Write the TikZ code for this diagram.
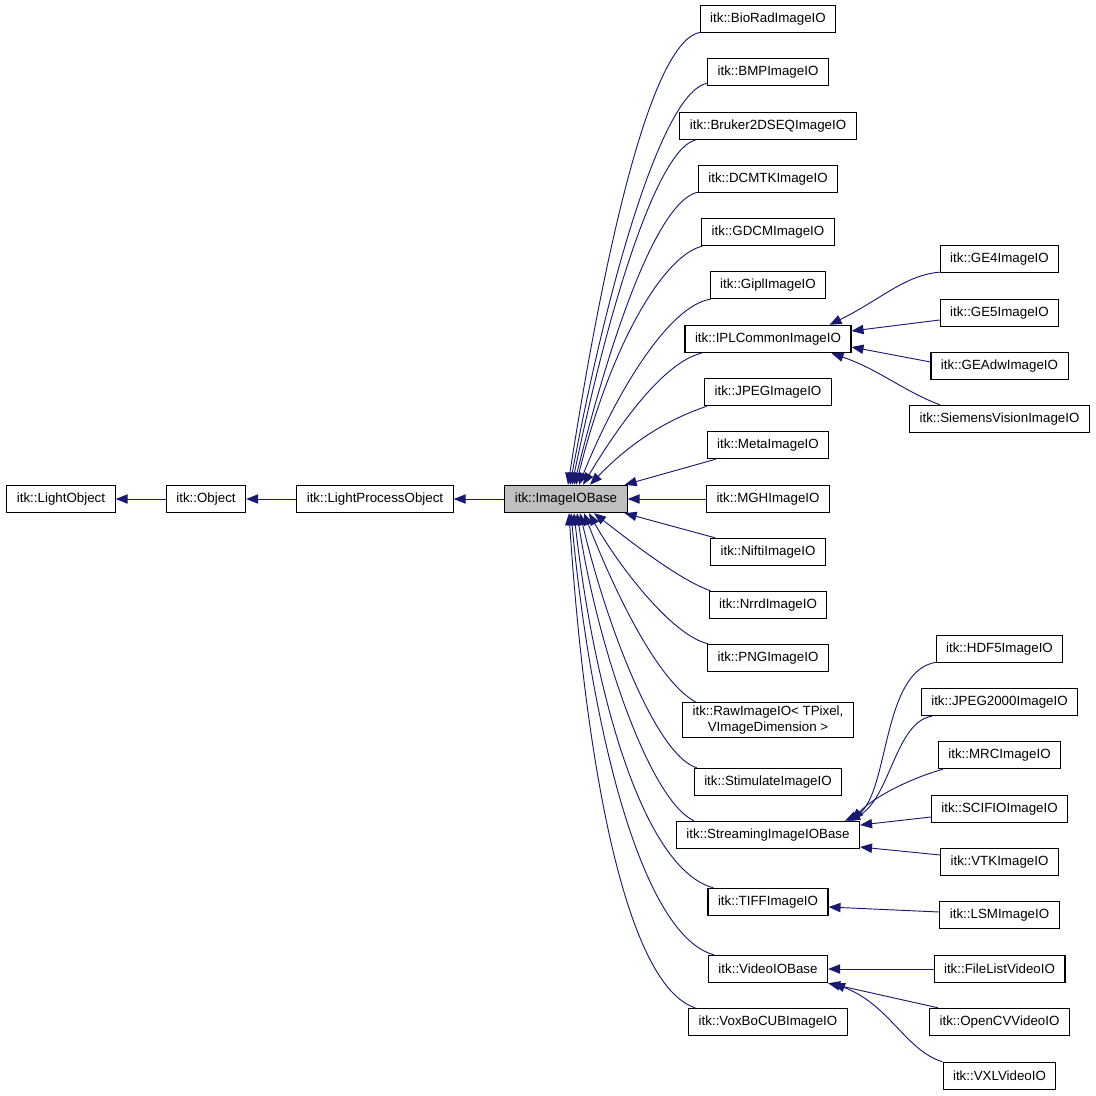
\documentclass[tikz,border=0pt]{standalone}
\usepackage{fontspec}
\setmainfont{Liberation Sans}
\usepackage{tikz}
\usetikzlibrary{arrows.meta,calc}
\definecolor{edgeblue}{HTML}{191970}
\definecolor{basegray}{HTML}{BFBFBF}
\tikzset{
  class-box/.style={draw=black, fill=white, line width=0.8pt, inner xsep=7.5pt, inner ysep=2pt,
    minimum height=20.5pt, align=center, font=\fontsize{10}{12.5}\selectfont},
  class-focus/.style={class-box, fill=basegray},
  inherit/.style={draw=edgeblue, line width=0.7pt, -{Triangle[length=9pt, width=7pt]}}
}

\begin{document}
\begin{tikzpicture}[x=0.75pt, y=-0.75pt]
  \useasboundingbox (0,0) rectangle (1096,1096);

  % Base chain
  \node[class-box] (lobj) at (61,499) {itk::LightObject};
  \node[class-box] (obj) at (206,499) {itk::Object};
  \node[class-box] (lpo) at (375,499) {itk::LightProcessObject};
  \node[class-focus] (iob) at (566,499) {itk::ImageIOBase};
  \draw[inherit] (obj) -- (lobj);
  \draw[inherit] (lpo) -- (obj);
  \draw[inherit] (iob) -- (lpo);

  % Direct subclasses
  \foreach \name/\y/\title in {bio/19/BioRadImageIO, bmp/72/BMPImageIO, bruker/126/Bruker2DSEQImageIO,
      dcmtk/179/DCMTKImageIO, gdcm/232/GDCMImageIO, gipl/285/GiplImageIO, ipl/339/IPLCommonImageIO,
      jpeg/392/JPEGImageIO, meta/445/MetaImageIO, mgh/499/MGHImageIO, nifti/552/NiftiImageIO,
      nrrd/605/NrrdImageIO, png/658/PNGImageIO, stim/782/StimulateImageIO,
      stream/835/StreamingImageIOBase, tiff/902/TIFFImageIO, video/969/VideoIOBase,
      voxbo/1022/VoxBoCUBImageIO} {
    \node[class-box] (\name) at (768,\y) {itk::\title};
  }
  \node[class-box] (raw) at (768,720) {itk::RawImageIO< TPixel,\\VImageDimension >};

  % Second level subclasses
  \foreach \name/\y/\title in {ge4/259/GE4ImageIO, ge5/313/GE5ImageIO, geadw/366/GEAdwImageIO,
      siemens/419/SiemensVisionImageIO, hdf5/649/HDF5ImageIO, jp2k/702/JPEG2000ImageIO,
      mrc/755/MRCImageIO, scifio/809/SCIFIOImageIO, vtk/862/VTKImageIO, lsm/915/LSMImageIO,
      filelist/969/FileListVideoIO, opencv/1022/OpenCVVideoIO, vxl/1076/VXLVideoIO} {
    \node[class-box] (\name) at (999.5,\y) {itk::\title};
  }

  % Fan above ImageIOBase
  \draw[inherit] ($(bio.south west)+(1,-1)$) .. controls (650,40) and (603,260) .. ($(iob.north)+(2,0)$);
  \draw[inherit] ($(bmp.south west)+(1,-3)$) .. controls (665,88) and (610,270) .. ($(iob.north)+(4,0)$);
  \draw[inherit] ($(bruker.south west)+(16,0)$) .. controls (660,148) and (612,290) .. ($(iob.north)+(6,0)$);
  \draw[inherit] ($(dcmtk.south west)+(0,-1)$) .. controls (660,200) and (615,320) .. ($(iob.north)+(8,0)$);
  \draw[inherit] ($(gdcm.south west)+(1,0)$) .. controls (665,255) and (612,340) .. ($(iob.north)+(10,0)$);
  \draw[inherit] ($(gipl.south west)+(1,0)$) .. controls (670,305) and (617,390) .. ($(iob.north)+(13,0)$);
  \draw[inherit] ($(ipl.south west)+(17,0)$) .. controls (665,362) and (622,420) .. ($(iob.north)+(17,0)$);
  \draw[inherit] ($(jpeg.south west)+(3,0)$) .. controls (665,420) and (628,445) .. ($(iob.north)+(24,0)$);
  \draw[inherit] ($(meta.south west)+(9,0)$) -- ($(iob.north east)+(-3,0)$);
  \draw[inherit] (mgh) -- (iob);

  % Fan below ImageIOBase
  \draw[inherit] ($(nifti.north west)+(5,0)$) -- ($(iob.south east)+(-3,0)$);
  \draw[inherit] ($(nrrd.north west)+(2,0)$) .. controls (680,580) and (635,545) .. ($(iob.south)+(28,0)$);
  \draw[inherit] ($(png.north west)+(1,0)$) .. controls (670,635) and (615,560) .. ($(iob.south)+(23,0)$);
  \draw[inherit] ($(raw.north west)+(14,0)$) .. controls (655,680) and (610,580) .. ($(iob.south)+(18,0)$);
  \draw[inherit] ($(stim.north west)+(3,0)$) .. controls (655,755) and (605,620) .. ($(iob.south)+(14,0)$);
  \draw[inherit] ($(stream.north west)+(18,0)$) .. controls (650,800) and (598,650) .. ($(iob.south)+(11,0)$);
  \draw[inherit] ($(tiff.north west)+(6,0)$) .. controls (645,870) and (595,700) .. ($(iob.south)+(8,0)$);
  \draw[inherit] ($(video.north west)+(6,0)$) .. controls (640,935) and (590,720) .. ($(iob.south)+(5,0)$);
  \draw[inherit] ($(voxbo.north west)+(7,0)$) .. controls (625,985) and (585,760) .. ($(iob.south)+(3,0)$);

  % IPLCommonImageIO subclasses
  \draw[inherit] ($(ge4.south west)+(0,-1)$) .. controls (905,275) and (880,300) .. ($(ipl.north east)+(-22,0)$);
  \draw[inherit] ($(ge5.west)+(0,7)$) -- ($(ipl.east)+(0,-8)$);
  \draw[inherit] ($(geadw.west)+(0,-4)$) -- ($(ipl.east)+(0,8)$);
  \draw[inherit] ($(siemens.north west)+(31,0)$) .. controls (905,392) and (880,370) .. ($(ipl.south east)+(-20,0)$);

  % StreamingImageIOBase subclasses
  \draw[inherit] ($(hdf5.south west)+(1,-1)$) .. controls (880,670) and (890,800) .. ($(stream.north east)+(-15,0)$);
  \draw[inherit] ($(jp2k.south west)+(11,0)$) .. controls (895,722) and (890,800) .. ($(stream.north east)+(-12,0)$);
  \draw[inherit] ($(mrc.south west)+(5,0)$) .. controls (905,780) and (870,800) .. ($(stream.north east)+(-8,0)$);
  \draw[inherit] ($(scifio.west)+(0,8)$) -- ($(stream.east)+(0,-10)$);
  \draw[inherit] ($(vtk.west)+(0,-7)$) -- ($(stream.east)+(0,12)$);

  % TIFF and video subclasses
  \draw[inherit] ($(lsm.west)+(0,-3)$) -- ($(tiff.east)+(0,5)$);
  \draw[inherit] (filelist) -- (video);
  \draw[inherit] ($(opencv.north west)+(9,0)$) -- (video.south east);
  \draw[inherit] (vxl.north west) .. controls (905,1050) and (890,1005) .. ($(video.south east)+(5,0)$);
\end{tikzpicture}
\end{document}
